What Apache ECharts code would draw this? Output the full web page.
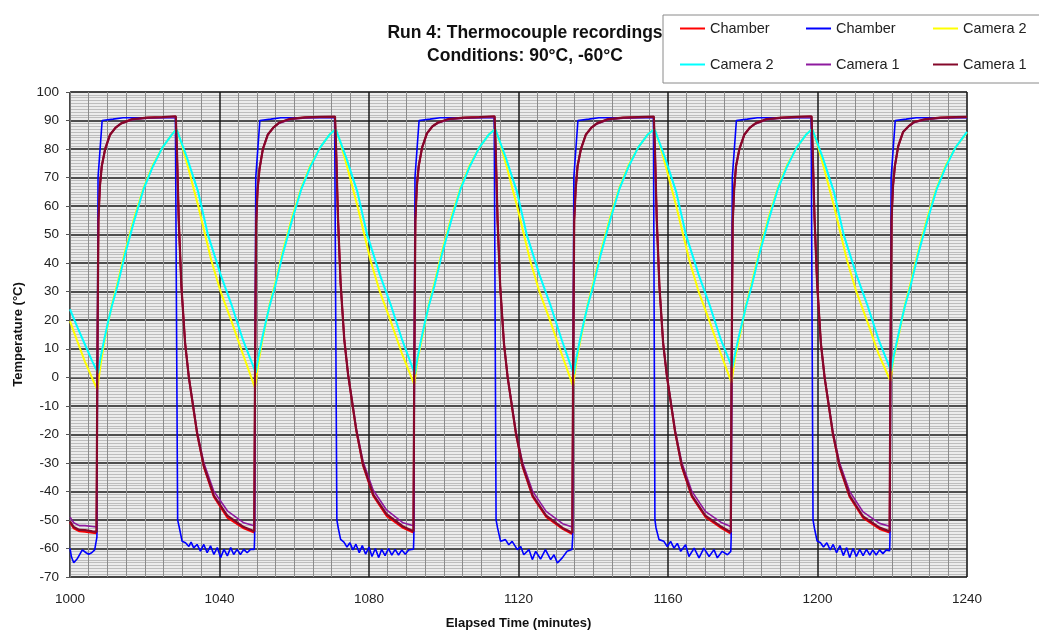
<!DOCTYPE html>
<html>
<head>
<meta charset="utf-8">
<script src="https://cdn.jsdelivr.net/npm/echarts@6/dist/echarts.min.js"></script>
<style>
  html, body { margin: 0; padding: 0; background: #fff; }
  #main { width: 1039px; height: 633px; }
</style>
</head>
<body>
<div id="main"></div>
<script>
// shared time stamps (minutes) for the Camera 1 / red chamber traces
var cam1T = [
  1000, 1001, 1002.5, 1004, 1006, 1007.1,
  1007.3, 1007.6, 1008.0, 1008.5, 1009.4, 1010.7, 1012.2, 1013.7, 1016.7, 1020.7, 1024.7, 1028.3,
  1028.6, 1029.1, 1029.8, 1030.8, 1031.8, 1032.7, 1034.0, 1035.8, 1038.5, 1042.1, 1046.5, 1049.3,
  1049.5, 1049.8, 1050.2, 1050.7, 1051.6, 1052.9, 1054.4, 1055.9, 1058.9, 1062.9, 1066.9, 1070.9,
  1071.2, 1071.7, 1072.4, 1073.4, 1074.4, 1075.3, 1076.6, 1078.4, 1081.1, 1084.7, 1089.1, 1091.9,
  1092.1, 1092.4, 1092.8, 1093.3, 1094.2, 1095.5, 1097.0, 1098.5, 1101.5, 1105.5, 1109.5, 1113.6,
  1113.9, 1114.4, 1115.1, 1116.1, 1117.1, 1118.0, 1119.3, 1121.1, 1123.8, 1127.4, 1131.8, 1134.4,
  1134.6, 1134.9, 1135.3, 1135.8, 1136.7, 1138.0, 1139.5, 1141.0, 1144.0, 1148.0, 1152.0, 1156.2,
  1156.5, 1157.0, 1157.7, 1158.7, 1159.7, 1160.6, 1161.9, 1163.7, 1166.4, 1170.0, 1174.4, 1176.8,
  1177.0, 1177.3, 1177.7, 1178.2, 1179.1, 1180.4, 1181.9, 1183.4, 1186.4, 1190.4, 1194.4, 1198.4,
  1198.7, 1199.2, 1199.9, 1200.9, 1201.9, 1202.8, 1204.1, 1205.9, 1208.6, 1212.2, 1216.6, 1219.3,
  1219.5, 1219.8, 1220.2, 1220.7, 1221.6, 1222.9, 1224.4, 1225.9, 1228.9, 1232.9, 1236.9, 1240
];

// Camera 1 (dark red)
var cam1Dark = [
  -50.5, -52.5, -53.5, -53.6, -54, -54.2,
  0, 55, 67, 74, 80, 85, 87.5, 89, 90.5, 91, 91.2, 91.5,
  80, 55, 32, 12, 0, -8, -19.5, -31, -41.5, -48.5, -52.5, -54,
  0, 54, 66, 73, 80, 85, 87.5, 89.2, 90.6, 91.1, 91.3, 91.4,
  80, 56, 33, 13, 1, -7, -18.5, -30.5, -41, -48, -52.3, -54,
  0, 55, 67, 74, 80.5, 85.5, 88, 89.3, 90.6, 91, 91.2, 91.5,
  80, 55, 32, 12, 0, -8, -19.5, -31, -41.5, -48.5, -52.8, -54.5,
  0, 55, 66, 74, 80, 85, 87.5, 89, 90.5, 91, 91.2, 91.4,
  80, 55, 32, 12, 0.5, -7.5, -19, -31, -41.5, -48.5, -52.5, -54.3,
  0, 54, 66, 74, 80, 85, 87.5, 89, 90.5, 91, 91.3, 91.5,
  80, 56, 33, 12, 0, -8, -19.5, -31, -41.5, -48.8, -52.7, -54,
  0, 55, 67, 74, 81, 86, 88, 89.5, 90.5, 91, 91.2, 91.3
];

// Camera 1 (purple)
var cam1Purple = [
  -49, -51, -52, -52, -52.3, -52.5,
  0, 55, 67, 74, 80, 85, 87.5, 89, 90.3, 90.8, 91, 91.2,
  80, 55, 32, 12, 0, -7.5, -19, -30, -40, -46.8, -51, -52,
  0, 54, 66, 73, 80, 85, 87.5, 89, 90.4, 90.9, 91.1, 91.2,
  80, 56, 33, 13, 1, -6.5, -18, -29.5, -39.5, -46.5, -51, -52,
  0, 55, 67, 74, 80.5, 85.5, 88, 89.1, 90.4, 90.8, 91, 91.2,
  80, 55, 32, 12, 0, -7.5, -19, -30, -40, -47, -51.3, -52.5,
  0, 55, 66, 74, 80, 85, 87.5, 88.8, 90.3, 90.8, 91, 91.2,
  80, 55, 32, 12, 0.5, -7, -18.5, -30, -40, -47, -51, -52.3,
  0, 54, 66, 74, 80, 85, 87.5, 88.8, 90.3, 90.8, 91.1, 91.2,
  80, 56, 33, 12, 0, -7.5, -19, -30, -40, -47.2, -51.2, -52.2,
  0, 55, 67, 74, 81, 86, 88, 89.3, 90.3, 90.8, 91, 91.1
];

// Chamber (red)
var chamberRed = [
  -51, -53, -54, -54.2, -54.5, -54.7,
  0, 55, 67, 74, 80, 85, 87.5, 89, 90.5, 91, 91.2, 91.4,
  80, 55, 32, 12, 0, -8.2, -19.8, -31.5, -42, -49.2, -53, -54.5,
  0, 54, 66, 73, 80, 85, 87.5, 89.2, 90.6, 91.1, 91.3, 91.3,
  80, 56, 33, 13, 1, -7.2, -18.8, -31, -41.5, -48.6, -52.8, -54.5,
  0, 55, 67, 74, 80.5, 85.5, 88, 89.3, 90.6, 91, 91.2, 91.4,
  80, 55, 32, 12, 0, -8.2, -19.8, -31.5, -42, -49, -53.2, -55,
  0, 55, 66, 74, 80, 85, 87.5, 89, 90.5, 91, 91.2, 91.3,
  80, 55, 32, 12, 0.5, -7.7, -19.3, -31.5, -42, -49, -53, -54.8,
  0, 54, 66, 74, 80, 85, 87.5, 89, 90.5, 91, 91.3, 91.4,
  80, 56, 33, 12, 0, -8.2, -19.8, -31.5, -42, -49.3, -53.2, -54.5,
  0, 55, 67, 74, 81, 86, 88, 89.5, 90.5, 91, 91.2, 91.2
];

// Chamber (blue) [minutes, degC]
var chamberBlue = [
  [1000, -60], [1000.4, -63], [1001, -65], [1002, -63.5], [1003.3, -60.5], [1004.3, -61.5],
  [1005, -62], [1005.8, -61.5], [1006.6, -60.5], [1007.1, -60], [1007.2, -56], [1007.5, 70],
  [1008.6, 90], [1011.5, 90.5], [1014.2, 91], [1028.2, 91],
  [1028.8, -50], [1029.3, -53], [1030, -57.5], [1030.9, -58], [1031.8, -59.3], [1032.4, -57.8],
  [1033.1, -59.8], [1034, -58.6], [1034.9, -60.9], [1035.8, -58.6], [1036.7, -61.5], [1037.6, -59.1],
  [1038.5, -62.1], [1039.4, -59.7], [1040.3, -63.2], [1041.2, -60.3], [1042.1, -62.6], [1043, -59.7],
  [1043.8, -62.1], [1044.7, -60.3], [1045.6, -62.1], [1046.5, -60.3], [1047.4, -61.5], [1048.3, -60.3],
  [1049.3, -60.3],
  [1049.4, -56], [1049.7, 70], [1050.8, 90], [1053.7, 90.5], [1056.4, 91], [1070.8, 91],
  [1071.4, -50], [1071.8, -53], [1072.4, -56.8], [1073.3, -57.8], [1074.1, -59.5], [1074.9, -58],
  [1075.7, -60.5], [1076.5, -58.5], [1077.4, -61.5], [1078.2, -59], [1079.1, -62], [1080, -59.5],
  [1080.8, -62.8], [1081.7, -60], [1082.6, -63.2], [1083.4, -60.3], [1084.3, -62.5], [1085.2, -60],
  [1086.1, -62.3], [1087, -60.3], [1087.9, -62.3], [1088.8, -60.5], [1089.7, -62], [1090.6, -60.5],
  [1091.9, -60.3],
  [1092, -56], [1092.3, 70], [1093.4, 90], [1096.3, 90.5], [1099, 91], [1113.5, 91],
  [1114, -50], [1114.4, -52.8], [1115.2, -57.5], [1116.5, -56.9], [1117.4, -58.7], [1118.3, -57.5],
  [1119.7, -60.4], [1120.6, -59.3], [1121.4, -62.2], [1122.8, -60.4], [1123.7, -63.9], [1124.6, -61],
  [1125.9, -63.7], [1127.2, -60.4], [1128.6, -63.9], [1129.5, -62.2], [1130.4, -65.1], [1131.7, -63.3],
  [1133, -61], [1134.3, -60.4],
  [1134.5, -56], [1134.8, 70], [1135.9, 90], [1138.8, 90.5], [1141.5, 91], [1156.1, 91],
  [1156.5, -50], [1156.8, -52.8], [1157.6, -56.9], [1158.9, -57.5], [1159.8, -59.3], [1160.7, -57.5],
  [1161.6, -59.9], [1162.5, -58.2], [1163.4, -61], [1164.7, -58.7], [1165.6, -62.8], [1167, -59.9],
  [1168.3, -63.3], [1169.6, -59.9], [1171, -62.8], [1172.3, -60.4], [1173.2, -63.3], [1174.5, -61],
  [1175.9, -62.2], [1176.8, -61],
  [1176.9, -56], [1177.2, 70], [1178.3, 90], [1181.2, 90.5], [1183.9, 91], [1198.3, 91],
  [1198.8, -50], [1199.2, -53], [1199.9, -57.4], [1200.8, -58], [1201.6, -59.5], [1202.5, -58],
  [1203.4, -60.5], [1204.2, -58.6], [1205.1, -61.5], [1206, -59], [1206.9, -62.5], [1207.8, -59.7],
  [1208.6, -63.2], [1209.5, -60], [1210.4, -62.8], [1211.3, -60.3], [1212.2, -62.5], [1213.1, -60.3],
  [1214, -62.3], [1214.8, -60.5], [1215.7, -62.3], [1216.6, -60.5], [1217.5, -61.8], [1218.4, -60.5],
  [1219.3, -60.8],
  [1219.4, -56], [1219.7, 70], [1220.8, 90], [1223.7, 90.5], [1226.4, 91], [1240, 91]
];

// Camera 2 (yellow)
var cam2Yellow = [
  [1000, 19.7], [1002, 12.5], [1004, 5.5], [1006, -0.5], [1007.3, -4.3],
  [1008.2, 4.5], [1009.2, 12.5], [1010.2, 19], [1011.2, 25.5], [1012.7, 33], [1014.7, 44],
  [1017.2, 56], [1019.7, 66.5], [1022.2, 74.5], [1024.7, 80.5], [1027.2, 85], [1028.5, 87],
  [1029.8, 82], [1031.6, 73.5], [1034.3, 60], [1037.8, 41], [1040.3, 30], [1043.2, 19.7],
  [1046.3, 8], [1049.5, -3.7],
  [1050.4, 5], [1051.4, 12.5], [1052.4, 19], [1053.4, 25.5], [1054.9, 33], [1056.9, 44],
  [1059.4, 56], [1061.9, 66.5], [1064.4, 74.5], [1066.9, 80.5], [1069.4, 85], [1071.1, 87],
  [1072.4, 82], [1074.2, 73.5], [1076.9, 60], [1080.4, 41], [1082.9, 30], [1085.8, 19.7],
  [1088.9, 8], [1092.1, -2.5],
  [1093, 6], [1094, 12.5], [1095, 19], [1096, 25.5], [1097.5, 33], [1099.5, 44],
  [1102, 56], [1104.5, 66.5], [1107, 74.5], [1109.5, 80.5], [1112, 85], [1113.8, 87],
  [1115.1, 82], [1116.9, 73.5], [1119.6, 60], [1123.1, 41], [1125.6, 30], [1128.5, 19.7],
  [1131.6, 8], [1134.6, -3.1],
  [1135.5, 5.5], [1136.5, 12.5], [1137.5, 19], [1138.5, 25.5], [1140, 33], [1142, 44],
  [1144.5, 56], [1147, 66.5], [1149.5, 74.5], [1152, 80.5], [1154.5, 85], [1156.4, 87],
  [1157.7, 82], [1159.5, 73.5], [1162.2, 60], [1165.7, 41], [1168.2, 30], [1171.1, 19.7],
  [1174.2, 8], [1177, -1.9],
  [1177.9, 6.5], [1178.9, 12.5], [1179.9, 19], [1180.9, 25.5], [1182.4, 33], [1184.4, 44],
  [1186.9, 56], [1189.4, 66.5], [1191.9, 74.5], [1194.4, 80.5], [1196.9, 85], [1198.6, 87],
  [1199.9, 82], [1201.7, 73.5], [1204.4, 60], [1207.9, 41], [1210.4, 30], [1213.3, 19.7],
  [1216.4, 8], [1219.5, -1.3],
  [1220.4, 7], [1221.4, 12.5], [1222.4, 19], [1223.4, 25.5], [1224.9, 33], [1226.9, 44],
  [1229.4, 56], [1231.9, 66.5], [1234.4, 74.5], [1236.9, 80.5], [1240, 85.8]
];

// Camera 2 (cyan)
var cam2Cyan = [
  [1000, 23.8], [1002, 17.5], [1004, 11.5], [1006, 5.5], [1007.5, 1.5],
  [1008.2, 7], [1009.2, 13.5], [1010.2, 19.5], [1011.2, 25], [1012.7, 32], [1014.7, 43],
  [1017.2, 55], [1019.7, 66], [1022.2, 74], [1024.7, 80.5], [1027.2, 85], [1028.5, 87],
  [1031.3, 77], [1034.3, 65], [1036.9, 50], [1040.3, 36], [1043.2, 25.5], [1046.3, 13],
  [1049.7, 1.6],
  [1050.4, 7], [1051.4, 13.5], [1052.4, 19.5], [1053.4, 25], [1054.9, 32], [1056.9, 43],
  [1059.4, 55], [1061.9, 66], [1064.4, 74], [1066.9, 80.5], [1069.4, 85], [1071.1, 87],
  [1073.9, 77], [1076.9, 65], [1079.5, 50], [1082.9, 36], [1085.8, 25.5], [1088.9, 13],
  [1092.3, 1],
  [1093, 7], [1094, 13.5], [1095, 19.5], [1096, 25], [1097.5, 32], [1099.5, 43],
  [1102, 55], [1104.5, 66], [1107, 74], [1109.5, 80.5], [1112, 85], [1113.8, 87],
  [1116.6, 77], [1119.6, 65], [1122.2, 50], [1125.6, 36], [1128.5, 25.5], [1131.6, 13],
  [1134.8, 1],
  [1135.5, 7], [1136.5, 13.5], [1137.5, 19.5], [1138.5, 25], [1140, 32], [1142, 43],
  [1144.5, 55], [1147, 66], [1149.5, 74], [1152, 80.5], [1154.5, 85], [1156.4, 87],
  [1159.2, 77], [1162.2, 65], [1164.8, 50], [1168.2, 36], [1171.1, 25.5], [1174.2, 13],
  [1177.2, 3.3],
  [1177.9, 8], [1178.9, 14], [1179.9, 19.5], [1180.9, 25], [1182.4, 32], [1184.4, 43],
  [1186.9, 55], [1189.4, 66], [1191.9, 74], [1194.4, 80.5], [1196.9, 85], [1198.6, 87],
  [1201.4, 77], [1204.4, 65], [1207, 50], [1210.4, 36], [1213.3, 25.5], [1216.4, 13],
  [1219.7, 2.2],
  [1220.4, 7.5], [1221.4, 13.5], [1222.4, 19.5], [1223.4, 25], [1224.9, 32], [1226.9, 43],
  [1229.4, 55], [1231.9, 66], [1234.4, 74], [1236.9, 80.5], [1240, 86]
];

var legendNames = ['Chamber', 'Chamber ', 'Camera 2', 'Camera 2 ', 'Camera 1', 'Camera 1 '];

function pairs(times, vals) {
  return times.map(function (t, i) { return [t, vals[i]]; });
}

function lineSeries(name, color, width, data) {
  return {
    name: name,
    type: 'line',
    data: data,
    symbol: 'none',
    showSymbol: false,
    lineStyle: { color: color, width: width },
    itemStyle: { color: color },
    animation: false
  };
}

var legendPos = [[680, 21], [806, 21], [933, 21], [680, 57], [806, 57], [933, 57]];

var myChart = echarts.init(document.getElementById('main'));
var option = {
  backgroundColor: '#ffffff',
  animation: false,
  title: {
    text: 'Run 4: Thermocouple recordings\nConditions: 90°C, -60°C',
    left: 520,
    top: 17,
    textAlign: 'center',
    textStyle: {
      fontFamily: 'Liberation Sans',
      fontSize: 17.5,
      fontWeight: 'bold',
      color: '#111',
      lineHeight: 23
    }
  },
  graphic: [{
    type: 'rect',
    z: 1,
    shape: { x: 663, y: 15, width: 400, height: 68 },
    style: { fill: '#fff', stroke: '#8a8a8a', lineWidth: 1 }
  }],
  legend: legendNames.map(function (n, i) {
    return {
      data: [n],
      left: legendPos[i][0],
      top: legendPos[i][1],
      icon: 'rect',
      itemWidth: 25,
      itemHeight: 2,
      padding: 0,
      z: 5,
      formatter: function (name) { return name.trim(); },
      textStyle: { fontFamily: 'Liberation Sans', fontSize: 14.5, color: '#222' }
    };
  }),
  grid: {
    left: 70,
    right: 72,
    top: 92,
    bottom: 56,
    outerBoundsMode: 'none',
    containLabel: false,
    show: true,
    backgroundColor: '#ececec',
    borderColor: '#999',
    borderWidth: 1
  },
  xAxis: {
    type: 'value',
    min: 1000,
    max: 1240,
    interval: 40,
    name: 'Elapsed Time (minutes)',
    nameLocation: 'middle',
    nameGap: 40,
    nameTextStyle: { fontFamily: 'Liberation Sans', fontSize: 13, fontWeight: 'bold', color: '#111' },
    axisLine: { show: true, lineStyle: { color: '#777' } },
    axisTick: { show: true, length: 4, lineStyle: { color: '#555' } },
    axisLabel: {
      fontFamily: 'Liberation Sans', fontSize: 13.5, color: '#222', margin: 15,
      formatter: function (v) { return String(v); }
    },
    splitLine: { show: true, lineStyle: { color: '#1a1a1a', width: 1.5 } },
    minorTick: { show: false, splitNumber: 8 },
    minorSplitLine: { show: true, lineStyle: { color: '#8c8c8c', width: 1 } }
  },
  yAxis: {
    type: 'value',
    min: -70,
    max: 100,
    interval: 10,
    name: 'Temperature (°C)',
    nameLocation: 'middle',
    nameGap: 45,
    nameTextStyle: { fontFamily: 'Liberation Sans', fontSize: 13, fontWeight: 'bold', color: '#111' },
    axisLine: { show: true, lineStyle: { color: '#777' } },
    axisTick: { show: true, length: 4, lineStyle: { color: '#555' } },
    axisLabel: { fontFamily: 'Liberation Sans', fontSize: 13.5, color: '#222', margin: 11 },
    splitLine: { show: true, lineStyle: { color: '#1a1a1a', width: 1.5 } },
    minorTick: { show: false, splitNumber: 10 },
    minorSplitLine: { show: true, lineStyle: { color: '#bdbdbd', width: 1 } }
  },
  series: [
    lineSeries('Chamber', '#ff0000', 1.8, pairs(cam1T, chamberRed)),
    lineSeries('Chamber ', '#0000ff', 1.6, chamberBlue),
    lineSeries('Camera 2', '#ffff00', 2, cam2Yellow),
    lineSeries('Camera 2 ', '#00ffff', 2, cam2Cyan),
    lineSeries('Camera 1', '#8e1a9e', 1.6, pairs(cam1T, cam1Purple)),
    lineSeries('Camera 1 ', '#85082a', 2.2, pairs(cam1T, cam1Dark))
  ]
};

myChart.setOption(option);
window.onresize = function () {
  myChart.resize();
};
</script>
</body>
</html>
